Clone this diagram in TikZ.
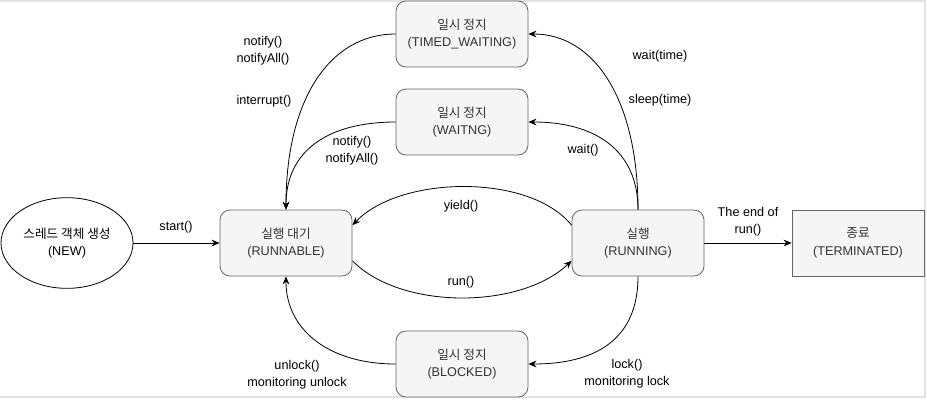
\documentclass[tikz,border=0pt]{standalone}
\usepackage{fontspec}
\setmainfont{Liberation Sans}
\newfontfamily\kr{Noto Sans CJK KR}
\usetikzlibrary{arrows.meta,shapes.geometric}
\definecolor{boxfill}{HTML}{F5F5F5}
\definecolor{boxline}{HTML}{666666}
\definecolor{boxtext}{HTML}{333333}
\definecolor{framec}{HTML}{E2E2E2}
\tikzset{
  every node/.style={font=\fontsize{9.5}{13}\selectfont, align=center},
  state/.style={draw=boxline, fill=boxfill, text=boxtext, rounded corners=7.5pt,
    minimum width=99pt, minimum height=49.5pt, inner sep=0pt, line width=0.6pt},
  endstate/.style={state, rounded corners=0pt},
  startstate/.style={draw=black, fill=white, ellipse, minimum width=99pt,
    minimum height=68pt, inner sep=0pt, line width=0.6pt},
  conn/.style={draw=black, line width=0.6pt, -{Stealth[length=6pt,width=5pt]}},
  lbl/.style={text=black, inner sep=1pt}
}
\begin{document}
\begin{tikzpicture}[x=0.75pt,y=-0.75pt]
\useasboundingbox (0,0) rectangle (927,400);
\draw[framec, line width=0.8pt] (0,1) -- (925,1) -- (925,397) -- (0,397);

\node[startstate] (new) at (67,243) {{\kr 스레드 객체 생성}\\(NEW)};
\node[state] (runnable) at (286,243) {{\kr 실행 대기}\\(RUNNABLE)};
\node[state] (running) at (638,243) {{\kr 실행}\\(RUNNING)};
\node[endstate] (term) at (858,243) {{\kr 종료}\\(TERMINATED)};
\node[state] (tw) at (462,34) {{\kr 일시 정지}\\(TIMED\_WAITING)};
\node[state] (w) at (462,122) {{\kr 일시 정지}\\(WAITNG)};
\node[state] (blk) at (462,364) {{\kr 일시 정지}\\(BLOCKED)};

\draw[conn] (new.east) -- (runnable.west);
\draw[conn] (running.east) -- (term.west);
\draw[conn] (tw.west) .. controls +(-66,0) and +(0,-110) .. (runnable.north);
\draw[conn] (w.west) .. controls +(-66,0) and +(0,-60) .. (runnable.north);
\draw[conn] (running.north) .. controls +(0,-110) and +(66,0) .. (tw.east);
\draw[conn] (running.north) .. controls +(0,-60) and +(66,0) .. (w.east);
\draw[conn] (running.165) .. controls +(-42,-52) and +(48,-50) .. (runnable.15);
\draw[conn] (runnable.-15) .. controls +(48,49) and +(-52,49) .. (running.195);
\draw[conn] (running.south) .. controls +(0,64) and +(66,0) .. (blk.east);
\draw[conn] (blk.west) .. controls +(-66,0) and +(0,54) .. (runnable.south);

\node[lbl] (lstart) at (176,227) {start()};
\node[lbl] (lnotify1) at (263,51) {notify()\\notifyAll()};
\node[lbl] (lint) at (264,101) {interrupt()};
\node[lbl] (lnotify2) at (352,151) {notify()\\notifyAll()};
\node[lbl] (lwaittime) at (660,56) {wait(time)};
\node[lbl] (lsleep) at (660,100) {sleep(time)};
\node[lbl] (lwait) at (583,150) {wait()};
\node[lbl] (lyield) at (461,206) {yield()};
\node[lbl] (lrun) at (461,282) {run()};
\node[lbl] (lend) at (748,222) {The end of\\run()};
\node[lbl] (llock) at (627,374) {lock()\\monitoring lock};
\node[lbl] (lunlock) at (297,375) {unlock()\\monitoring unlock};
\end{tikzpicture}
\end{document}
